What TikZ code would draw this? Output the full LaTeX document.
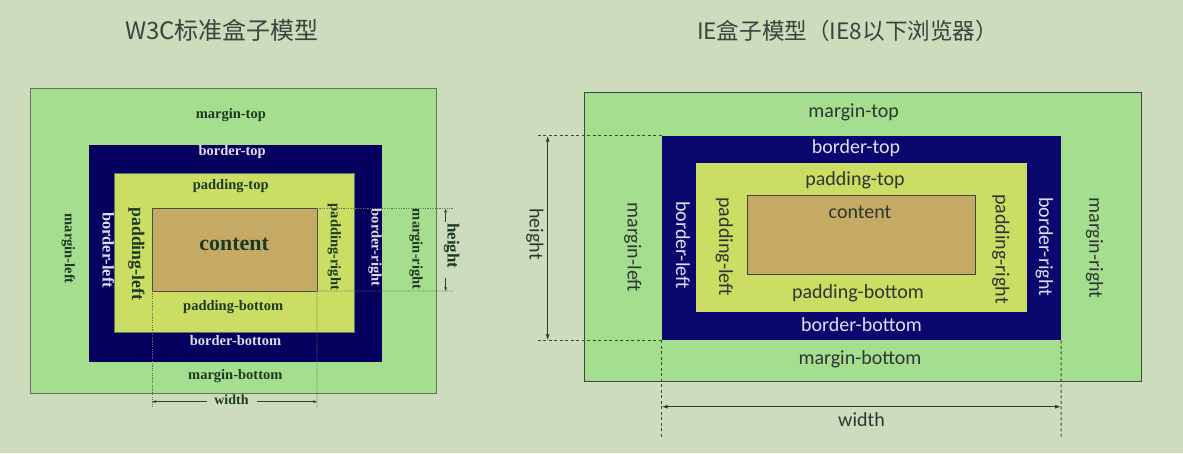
\documentclass[tikz,border=0pt]{standalone}
\usepackage{fontspec}
\setmainfont{Liberation Serif}
\newfontfamily\cjkfont{Noto Sans CJK SC}
\newfontfamily\calfont{Carlito}
\usetikzlibrary{arrows.meta}
\definecolor{bg}{RGB}{204,220,189}
\definecolor{mgreen}{RGB}{166,222,144}
\definecolor{navyb}{RGB}{6,0,94}
\definecolor{navyr}{RGB}{10,8,110}
\definecolor{pyellow}{RGB}{203,221,99}
\definecolor{ctan}{RGB}{197,170,102}
\definecolor{ltxt}{RGB}{28,58,34}
\definecolor{lwht}{RGB}{222,222,240}
\definecolor{rtxt}{RGB}{45,54,48}
\definecolor{edgec}{RGB}{100,115,90}
\definecolor{redge}{RGB}{60,70,60}
\definecolor{titlec}{RGB}{60,66,60}
\tikzset{
  boxn/.style={inner sep=0pt, outer sep=0pt, anchor=north west},
  lab/.style={inner sep=0pt, text=ltxt, font=\bfseries\fontsize{14.5}{16}\selectfont},
  labw/.style={lab, text=lwht},
  rlab/.style={inner sep=0pt, text=rtxt, font=\calfont\fontsize{20}{22}\selectfont},
  rlabw/.style={rlab, text=lwht},
  ldot/.style={draw=edgec, dash pattern=on 1.2pt off 1.2pt, line width=0.6pt},
  ldim/.style={draw=ltxt!80!edgec, line width=0.6pt, -{Stealth[length=4pt,width=3pt]}},
  rdash/.style={draw=redge, dash pattern=on 3pt off 2.5pt, line width=1pt},
  rdim/.style={draw=redge!80!black, line width=1pt, {Latex[length=6pt,width=4pt]}-{Latex[length=6pt,width=4pt]}},
  ttl/.style={inner sep=0pt, text=titlec, font=\cjkfont\fontsize{23}{26}\selectfont}
}
\begin{document}
\begin{tikzpicture}[x=1pt,y=-1pt]
\useasboundingbox[fill=bg] (0,0) rectangle (1183,453);

% ---------------- titles
\node[ttl, font=\cjkfont\fontsize{24}{27}\selectfont] (t1) at (222,30.7) {W3C标准盒子模型};
\node[ttl, font=\cjkfont\fontsize{22.6}{26}\selectfont] (t2) at (847.5,30.7) {IE盒子模型（IE8以下浏览器）};

% ---------------- left (W3C) model
\node[boxn, draw=edgec, line width=0.9pt, fill=mgreen, minimum width=405.7pt, minimum height=305.7pt] (Lm) at (30.3,88) {};
\node[boxn, fill=navyb, minimum width=292.4pt, minimum height=216.4pt] (Lb) at (89.3,145.3) {};
\node[boxn, draw=edgec, line width=0.5pt, fill=pyellow, minimum width=240.7pt, minimum height=158.6pt] (Lp) at (114,173.7) {};
\node[boxn, draw=edgec!70!black, line width=0.8pt, fill=ctan, minimum width=164.7pt, minimum height=82.3pt] (Lc) at (152.3,208.7) {};

\node[lab] (Lmt) at (230.8,115) {margin-top};
\node[labw] (Lbt) at (232.2,152.3) {border-top};
\node[lab] (Lpt) at (230.7,186) {padding-top};
\node[lab, font=\bfseries\fontsize{22}{24}\selectfont] (Lct) at (234.2,244.3) {content};
\node[lab] (Lpb) at (233.2,306.7) {padding-bottom};
\node[labw] (Lbb) at (235.5,341) {border-bottom};
\node[lab] (Lmb) at (235.3,376) {margin-bottom};
\node[lab, font=\bfseries\fontsize{14}{16}\selectfont] (Lw) at (231.5,400) {width};

\node[lab, rotate=-90] (Lml) at (68.3,248.7) {margin-left};
\node[labw, rotate=-90, font=\bfseries\fontsize{16.4}{18}\selectfont] (Lbl) at (108.3,250) {border-left};
\node[lab, rotate=-90, font=\bfseries\fontsize{17.7}{19}\selectfont] (Lpl) at (136.3,253.7) {padding-left};
\node[lab, rotate=-90] (Lpr) at (334.3,247) {padding-right};
\node[labw, rotate=-90] (Lbr) at (375,247.5) {border-right};
\node[lab, rotate=-90] (Lmr) at (416,249.2) {margin-right};
\node[lab, rotate=-90, font=\bfseries\fontsize{16.9}{18}\selectfont] (Lh) at (451.7,245.8) {height};

% dotted guide lines
\coordinate (Lg1) at (152.3,408);
\coordinate (Lg2) at (317,408);
\coordinate (Lg3) at (453,208.7);
\coordinate (Lg4) at (453,291);
\draw[ldot] (Lc.south west) -- (Lg1);
\draw[ldot] (Lc.south east) -- (Lg2);
\draw[ldot] (Lc.north east) -- (Lg3);
\draw[ldot] (Lc.south east) -- (Lg4);

% width / height dimension arrows
\coordinate (Lwl) at (152.3,401.7);
\coordinate (Lwr) at (317,401.7);
\coordinate (Lwa) at (207,401.7);
\coordinate (Lwb) at (257,401.7);
\draw[ldim] (Lwa) -- (Lwl);
\draw[ldim] (Lwb) -- (Lwr);
\coordinate (Lht) at (445.7,208.7);
\coordinate (Lhb) at (445.7,291);
\coordinate (Lha) at (445.7,222);
\coordinate (Lhc) at (445.7,278);
\draw[ldim] (Lha) -- (Lht);
\draw[ldim] (Lhc) -- (Lhb);

% ---------------- right (IE) model
\node[boxn, draw=redge, line width=1pt, fill=mgreen, minimum width=557.4pt, minimum height=289pt] (Rm) at (584.3,92.7) {};
\node[boxn, fill=navyr, minimum width=399.3pt, minimum height=204.6pt] (Rb) at (661.7,135.7) {};
\node[boxn, fill=pyellow, minimum width=330.8pt, minimum height=149pt] (Rp) at (695.7,163.3) {};
\node[boxn, draw=redge, line width=1pt, fill=ctan, minimum width=227.7pt, minimum height=78.3pt] (Rc) at (747.3,195.7) {};

\node[rlab] (Rmt) at (853.7,112.7) {margin-top};
\node[rlabw] (Rbt) at (856,148.3) {border-top};
\node[rlab] (Rpt) at (855,180) {padding-top};
\node[rlab] (Rct) at (860,212.3) {content};
\node[rlab] (Rpb) at (858,293.3) {padding-bottom};
\node[rlabw] (Rbb) at (861.5,325) {border-bottom};
\node[rlab] (Rmb) at (860,359.3) {margin-bottom};
\node[rlab] (Rw) at (861.5,419.3) {width};

\node[rlab, rotate=-90] (Rh) at (534.8,234) {height};
\node[rlab, rotate=-90] (Rml) at (632.8,247.5) {margin-left};
\node[rlabw, rotate=-90] (Rbl) at (683,245) {border-left};
\node[rlab, rotate=-90] (Rpl) at (724.3,246.7) {padding-left};
\node[rlab, rotate=-90] (Rpr) at (1000.9,249) {padding-right};
\node[rlabw, rotate=-90] (Rbr) at (1044.4,246.7) {border-right};
\node[rlab, rotate=-90] (Rmr) at (1094.5,248) {margin-right};

% dashed guide lines
\coordinate (Rg1) at (537.7,135.7);
\coordinate (Rg2) at (537.7,340.3);
\coordinate (Rg3) at (661.7,436.7);
\coordinate (Rg4) at (1061,436.7);
\draw[rdash] (Rb.north west) -- (Rg1);
\draw[rdash] (Rb.south west) -- (Rg2);
\draw[rdash] (Rb.south west) -- (Rg3);
\draw[rdash] (Rb.south east) -- (Rg4);

% dimension arrows
\coordinate (Rht) at (547.7,135.7);
\coordinate (Rhb) at (547.7,340.3);
\coordinate (Rwl) at (661.7,406.7);
\coordinate (Rwr) at (1061,406.7);
\draw[rdim] (Rht) -- (Rhb);
\draw[rdim] (Rwl) -- (Rwr);
\end{tikzpicture}
\end{document}
